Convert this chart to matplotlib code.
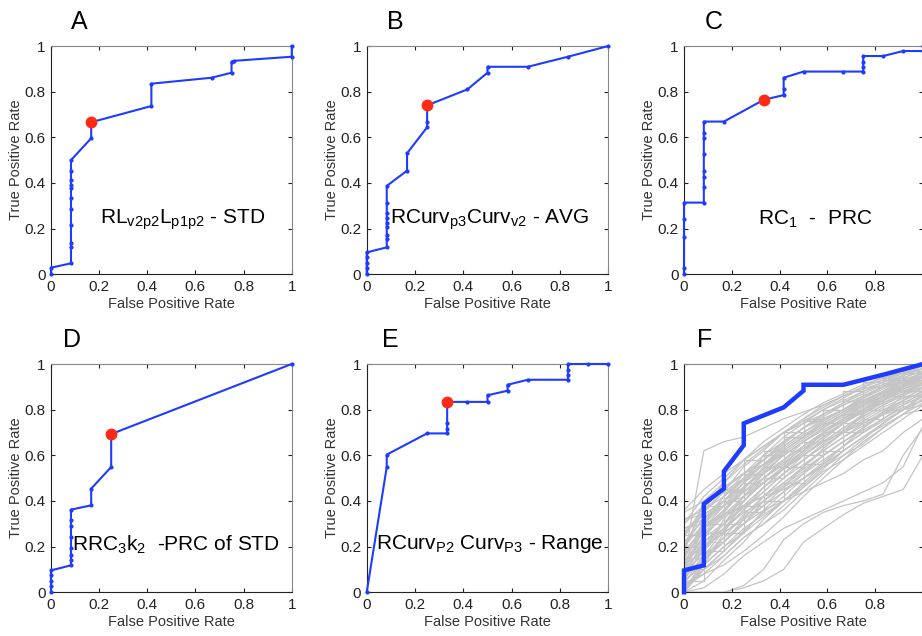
import numpy as np
import matplotlib
matplotlib.use("Agg")
import matplotlib.pyplot as plt

plt.rcParams['font.family'] = ['Liberation Sans', 'DejaVu Sans']
plt.rcParams['mathtext.default'] = 'regular'

# ROC curves
a_fpr = [0, 0, 0.083, 0.083, 0.083, 0.083, 0.083, 0.083, 0.083, 0.083, 0.083, 0.083, 0.083,
         0.167, 0.167, 0.417, 0.417, 0.667, 0.75, 0.75, 0.76, 1, 1]
a_tpr = [0, 0.029, 0.048, 0.118, 0.139, 0.216, 0.286, 0.333, 0.377, 0.391, 0.413, 0.454, 0.5,
         0.596, 0.666, 0.737, 0.835, 0.861, 0.883, 0.931, 0.935, 0.953, 1.0]
a_best = (0.167, 0.666)

b_fpr = [0, 0, 0, 0, 0, 0.083, 0.083, 0.083, 0.083, 0.083, 0.083, 0.083, 0.083, 0.083,
         0.167, 0.167, 0.25, 0.25, 0.25, 0.417, 0.5, 0.5, 0.667, 0.833, 1]
b_tpr = [0, 0.026, 0.048, 0.074, 0.096, 0.118, 0.153, 0.172, 0.209, 0.226, 0.245, 0.267, 0.311, 0.387,
         0.454, 0.530, 0.644, 0.666, 0.740, 0.81, 0.883, 0.909, 0.909, 0.953, 1.0]
b_best = (0.25, 0.74)

c_fpr = [0, 0, 0, 0, 0, 0.083, 0.083, 0.083, 0.083, 0.083, 0.083, 0.083, 0.083,
         0.167, 0.333, 0.417, 0.417, 0.417, 0.5, 0.667, 0.75, 0.75, 0.75, 0.75, 0.833, 0.917, 1, 1]
c_tpr = [0, 0.029, 0.165, 0.241, 0.314, 0.314, 0.384, 0.428, 0.453, 0.527, 0.596, 0.62, 0.669,
         0.669, 0.764, 0.785, 0.81, 0.861, 0.888, 0.888, 0.888, 0.91, 0.93, 0.956, 0.956, 0.978, 0.978, 1.0]
c_best = (0.333, 0.764)

d_fpr = [0, 0, 0, 0, 0, 0.083, 0.083, 0.083, 0.083, 0.083, 0.083, 0.083, 0.083,
         0.167, 0.167, 0.25, 0.25, 1]
d_tpr = [0, 0.026, 0.048, 0.074, 0.096, 0.118, 0.143, 0.165, 0.194, 0.241, 0.289, 0.315, 0.362,
         0.381, 0.454, 0.549, 0.693, 1.0]
d_best = (0.25, 0.693)

e_fpr = [0, 0.083, 0.083, 0.25, 0.333, 0.333, 0.333, 0.333, 0.417, 0.5, 0.5, 0.583, 0.583,
         0.667, 0.833, 0.833, 0.833, 0.833, 0.917, 1]
e_tpr = [0, 0.549, 0.603, 0.696, 0.696, 0.717, 0.74, 0.834, 0.834, 0.834, 0.863, 0.883, 0.909,
         0.931, 0.931, 0.953, 0.975, 1.0, 1.0, 1.0]
e_best = (0.333, 0.834)

# background curves of panel F (tpr at fpr = k/12)
grid_fpr = [0, 0.083, 0.167, 0.25, 0.333, 0.417, 0.5, 0.583, 0.667, 0.75, 0.833, 0.917, 1]
gray_tpr = [
    [0.05, 0.20, 0.30, 0.40, 0.48, 0.55, 0.62, 0.70, 0.76, 0.82, 0.88, 0.93, 1.00],
    [0.10, 0.25, 0.35, 0.45, 0.55, 0.62, 0.68, 0.75, 0.80, 0.86, 0.90, 0.95, 0.98],
    [0.00, 0.15, 0.22, 0.30, 0.38, 0.46, 0.55, 0.63, 0.70, 0.78, 0.84, 0.90, 0.95],
    [0.20, 0.30, 0.40, 0.50, 0.58, 0.65, 0.72, 0.78, 0.83, 0.88, 0.92, 0.95, 1.00],
    [0.15, 0.28, 0.38, 0.48, 0.60, 0.68, 0.74, 0.80, 0.85, 0.90, 0.93, 0.97, 1.00],
    [0.02, 0.10, 0.18, 0.27, 0.35, 0.42, 0.50, 0.57, 0.64, 0.70, 0.76, 0.82, 0.88],
    [0.30, 0.38, 0.45, 0.52, 0.58, 0.64, 0.70, 0.76, 0.80, 0.85, 0.90, 0.94, 0.97],
    [0.08, 0.18, 0.32, 0.42, 0.50, 0.57, 0.63, 0.69, 0.74, 0.79, 0.84, 0.89, 0.93],
    [0.12, 0.22, 0.30, 0.37, 0.44, 0.52, 0.60, 0.66, 0.72, 0.78, 0.83, 0.87, 0.90],
    [0.25, 0.35, 0.44, 0.55, 0.62, 0.70, 0.76, 0.81, 0.86, 0.89, 0.92, 0.96, 1.00],
    [0.05, 0.12, 0.20, 0.26, 0.33, 0.40, 0.47, 0.55, 0.62, 0.68, 0.73, 0.78, 0.83],
    [0.18, 0.40, 0.48, 0.56, 0.63, 0.70, 0.75, 0.80, 0.84, 0.88, 0.91, 0.95, 0.98],
    [0.35, 0.40, 0.46, 0.52, 0.56, 0.60, 0.66, 0.72, 0.78, 0.84, 0.88, 0.92, 0.96],
    [0.00, 0.05, 0.14, 0.22, 0.32, 0.40, 0.48, 0.56, 0.64, 0.72, 0.79, 0.86, 0.92],
    [0.10, 0.20, 0.26, 0.33, 0.40, 0.46, 0.52, 0.58, 0.64, 0.70, 0.75, 0.80, 0.86],
    [0.22, 0.32, 0.42, 0.49, 0.56, 0.63, 0.69, 0.74, 0.79, 0.84, 0.87, 0.91, 0.94],
    [0.06, 0.16, 0.27, 0.36, 0.46, 0.54, 0.60, 0.67, 0.74, 0.80, 0.86, 0.91, 0.97],
    [0.14, 0.62, 0.66, 0.68, 0.72, 0.76, 0.79, 0.82, 0.86, 0.90, 0.94, 0.97, 1.00],
    [0.28, 0.30, 0.34, 0.38, 0.42, 0.48, 0.54, 0.60, 0.66, 0.72, 0.78, 0.82, 0.86],
    [0.02, 0.08, 0.12, 0.18, 0.25, 0.33, 0.42, 0.50, 0.58, 0.66, 0.72, 0.78, 0.85],
    [0.00, 0.00, 0.00, 0.02, 0.05, 0.10, 0.22, 0.28, 0.34, 0.39, 0.42, 0.45, 0.60],
    [0.00, 0.02, 0.08, 0.16, 0.22, 0.28, 0.32, 0.36, 0.40, 0.44, 0.48, 0.55, 0.73],
    [0.12, 0.25, 0.33, 0.38, 0.42, 0.45, 0.50, 0.55, 0.60, 0.65, 0.72, 0.78, 0.80],
    [0.36, 0.45, 0.52, 0.58, 0.64, 0.70, 0.74, 0.78, 0.82, 0.86, 0.90, 0.92, 0.95],
    [0.04, 0.14, 0.24, 0.34, 0.42, 0.50, 0.58, 0.64, 0.70, 0.76, 0.81, 0.85, 0.89],
    [0.16, 0.26, 0.36, 0.46, 0.54, 0.61, 0.67, 0.73, 0.78, 0.83, 0.87, 0.90, 0.93],
    [0.08, 0.22, 0.28, 0.36, 0.44, 0.52, 0.58, 0.64, 0.70, 0.75, 0.80, 0.84, 0.88],
    [0.20, 0.33, 0.38, 0.44, 0.50, 0.56, 0.62, 0.68, 0.74, 0.80, 0.85, 0.90, 0.94],
    [0.03, 0.10, 0.16, 0.24, 0.30, 0.36, 0.44, 0.52, 0.60, 0.67, 0.74, 0.80, 0.87],
    [0.26, 0.36, 0.48, 0.58, 0.66, 0.72, 0.78, 0.83, 0.87, 0.91, 0.94, 0.96, 0.99],
    [0.10, 0.16, 0.24, 0.30, 0.36, 0.40, 0.44, 0.48, 0.52, 0.58, 0.62, 0.70, 0.76],
    [0.18, 0.28, 0.34, 0.40, 0.48, 0.55, 0.60, 0.66, 0.72, 0.77, 0.82, 0.86, 0.90],
    [0.00, 0.12, 0.26, 0.40, 0.50, 0.58, 0.66, 0.72, 0.78, 0.83, 0.88, 0.92, 0.96],
    [0.32, 0.34, 0.40, 0.48, 0.54, 0.62, 0.68, 0.73, 0.78, 0.82, 0.86, 0.89, 0.92],
    [0.06, 0.20, 0.28, 0.35, 0.40, 0.47, 0.53, 0.60, 0.66, 0.71, 0.76, 0.81, 0.84],
    [0.14, 0.24, 0.30, 0.42, 0.52, 0.58, 0.64, 0.70, 0.76, 0.81, 0.86, 0.90, 0.95],
    [0.22, 0.28, 0.36, 0.44, 0.52, 0.60, 0.66, 0.71, 0.76, 0.80, 0.84, 0.88, 0.91],
    [0.09, 0.30, 0.38, 0.46, 0.53, 0.60, 0.66, 0.72, 0.77, 0.82, 0.86, 0.90, 0.94],
    [0.12, 0.18, 0.28, 0.38, 0.46, 0.54, 0.62, 0.70, 0.76, 0.82, 0.87, 0.91, 0.95],
    [0.04, 0.16, 0.22, 0.32, 0.42, 0.50, 0.56, 0.62, 0.68, 0.74, 0.79, 0.84, 0.90],
    [0.26, 0.34, 0.40, 0.46, 0.52, 0.58, 0.64, 0.70, 0.75, 0.80, 0.85, 0.89, 0.93],
    [0.16, 0.30, 0.42, 0.52, 0.60, 0.66, 0.72, 0.77, 0.82, 0.86, 0.90, 0.93, 0.96],
    [0.07, 0.14, 0.22, 0.30, 0.40, 0.48, 0.55, 0.62, 0.68, 0.73, 0.78, 0.83, 0.87],
    [0.30, 0.42, 0.50, 0.58, 0.64, 0.70, 0.76, 0.82, 0.86, 0.90, 0.93, 0.96, 0.98],
    [0.02, 0.12, 0.20, 0.28, 0.34, 0.40, 0.46, 0.53, 0.58, 0.64, 0.70, 0.76, 0.82],
    [0.18, 0.22, 0.30, 0.38, 0.46, 0.52, 0.58, 0.65, 0.71, 0.77, 0.82, 0.87, 0.92],
    [0.10, 0.28, 0.36, 0.44, 0.50, 0.56, 0.64, 0.70, 0.75, 0.80, 0.84, 0.88, 0.92],
    [0.24, 0.38, 0.46, 0.52, 0.58, 0.66, 0.72, 0.76, 0.80, 0.84, 0.88, 0.92, 0.95],
    [0.00, 0.10, 0.18, 0.26, 0.36, 0.44, 0.52, 0.60, 0.66, 0.72, 0.78, 0.84, 0.88],
    [0.14, 0.20, 0.26, 0.32, 0.38, 0.44, 0.50, 0.56, 0.62, 0.68, 0.74, 0.80, 0.84],
    [0.20, 0.36, 0.44, 0.50, 0.56, 0.62, 0.68, 0.74, 0.79, 0.84, 0.88, 0.91, 0.94],
    [0.06, 0.24, 0.34, 0.42, 0.48, 0.54, 0.61, 0.68, 0.74, 0.79, 0.83, 0.87, 0.91],
    [0.32, 0.36, 0.42, 0.50, 0.58, 0.66, 0.72, 0.78, 0.83, 0.87, 0.91, 0.94, 0.97],
    [0.04, 0.08, 0.16, 0.24, 0.30, 0.38, 0.46, 0.54, 0.62, 0.68, 0.74, 0.80, 0.86],
    [0.12, 0.32, 0.40, 0.48, 0.56, 0.64, 0.70, 0.75, 0.80, 0.85, 0.89, 0.93, 0.96],
    [0.28, 0.32, 0.38, 0.42, 0.48, 0.54, 0.60, 0.66, 0.70, 0.74, 0.78, 0.80, 0.82],
    [0.00, 0.00, 0.00, 0.03, 0.10, 0.23, 0.30, 0.35, 0.38, 0.40, 0.43, 0.60, 0.72],
]
# a few background curves drawn as steps
gray_step_tpr = [
    [0.15, 0.38, 0.45, 0.58, 0.62, 0.70, 0.75, 0.80, 0.88, 0.90, 0.93, 0.96, 1.00],
    [0.05, 0.22, 0.30, 0.38, 0.50, 0.55, 0.60, 0.70, 0.74, 0.80, 0.86, 0.88, 0.92],
    [0.25, 0.30, 0.40, 0.48, 0.55, 0.62, 0.66, 0.74, 0.78, 0.84, 0.88, 0.93, 0.96],
    [0.10, 0.18, 0.26, 0.35, 0.40, 0.48, 0.56, 0.62, 0.70, 0.76, 0.80, 0.86, 0.90],
    [0.20, 0.26, 0.44, 0.52, 0.60, 0.68, 0.76, 0.80, 0.84, 0.92, 0.94, 0.97, 1.00],
]

labels = ['A', 'B', 'C', 'D', 'E', 'F']
notes = [r'$RL_{v2p2}L_{p1p2}$ - STD', r'$RCurv_{p3}Curv_{v2}$ - AVG', r'$RC_1$  -  PRC',
         r'$RRC_3k_2$  -PRC of STD', r'$RCurv_{P2}$ $Curv_{P3}$ - Range', None]
note_pos = [(0.545, 0.24), (0.51, 0.24), (0.55, 0.24), (0.52, 0.21), (0.51, 0.21), None]
label_x = [0.116, 0.117, 0.123, 0.087, 0.096, 0.088]

W, H = 922, 636
fig = plt.figure(figsize=(W / 100, H / 100), dpi=100)

# axes boxes in pixels: left, top, right, bottom
boxes = [(51, 46, 291.7, 274.3), (366.7, 46, 608.3, 274.3), (684, 46, 923, 274.3),
         (51, 364, 291.7, 592.3), (366.7, 364, 608.3, 592.3), (684, 364, 923, 592.3)]

BLUE = '#1e3cff'
RED = '#ff2a14'
curves = [(a_fpr, a_tpr, a_best), (b_fpr, b_tpr, b_best), (c_fpr, c_tpr, c_best),
          (d_fpr, d_tpr, d_best), (e_fpr, e_tpr, e_best)]

for i, (l, t, r, b) in enumerate(boxes):
    ax = fig.add_axes([l / W, (H - b) / H, (r - l) / W, (b - t) / H])
    if i < 5:
        fpr, tpr, best = curves[i]
        ax.plot(fpr, tpr, '-', color=BLUE, lw=1.5, marker='.', ms=4, clip_on=False, zorder=3)
        ax.plot([best[0]], [best[1]], 'o', color=RED, ms=7.5, clip_on=False, zorder=4)
        ax.text(note_pos[i][0], note_pos[i][1], notes[i], fontsize=15, ha='center', va='center',
                transform=ax.transAxes)
    else:
        for g in gray_tpr:
            ax.plot(grid_fpr, g, color='#c4c4c4', lw=0.9, zorder=1)
        for g in gray_step_tpr:
            ax.plot(grid_fpr, g, color='#c4c4c4', lw=0.9, zorder=1, drawstyle='steps-post')
        ax.plot(b_fpr, b_tpr, color=BLUE, lw=3.2, zorder=3, clip_on=False, solid_joinstyle='miter')
    ax.set_xlim(0, 1)
    ax.set_ylim(0, 1)
    ticks = [0, 0.2, 0.4, 0.6, 0.8, 1]
    ax.set_xticks(ticks)
    ax.set_yticks(ticks)
    xlabels = ['0', '0.2', '0.4', '0.6', '0.8', '1']
    if i in (2, 5):
        # the right column is cut by the picture edge, its "1" is not visible
        xlabels[-1] = ''
    ax.set_xticklabels(xlabels)
    ax.set_yticklabels(['0', '0.2', '0.4', '0.6', '0.8', '1'])
    ax.tick_params(direction='in', length=3, top=True, right=True, labelsize=11,
                   colors='#222222', pad=4)
    ax.spines['left'].set_color('#222222')
    ax.spines['bottom'].set_color('#222222')
    ax.spines['top'].set_color('#888888')
    ax.spines['right'].set_color('#888888')
    ax.set_xlabel('False Positive Rate', fontsize=10.5, color='#333333', labelpad=2)
    ax.set_ylabel('True Positive Rate', fontsize=10.5, color='#333333', labelpad=1)
    ax.text(label_x[i], 1.105, labels[i], fontsize=18, ha='center', va='center',
            transform=ax.transAxes)

fig.savefig('out.png', dpi=100)
